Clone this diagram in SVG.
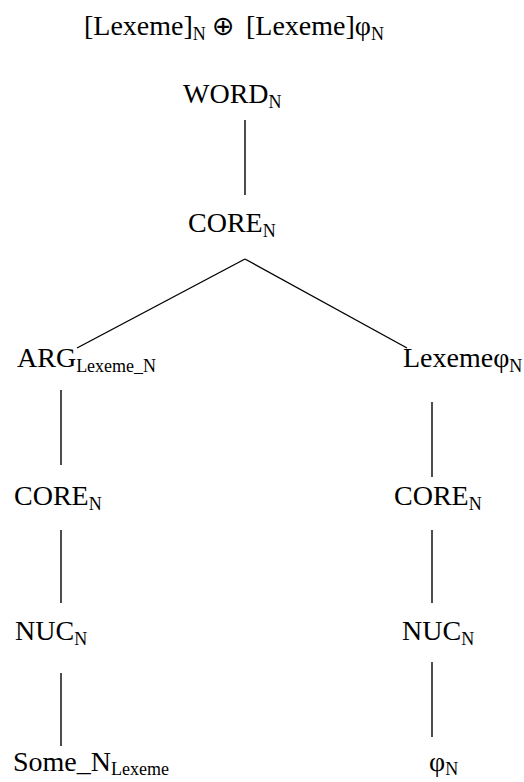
<svg xmlns="http://www.w3.org/2000/svg" width="524" height="782" viewBox="0 0 524 782">
<style>
text{font-family:"Liberation Serif","Times New Roman",serif;font-size:28px;fill:#000}
.s{font-size:18px}
.m{font-family:"DejaVu Sans",sans-serif;font-size:27px}
line{stroke:#000;stroke-width:1.4}
</style>
<rect width="524" height="782" fill="#fff"/>
<g id="title">
<text x="84" y="35">[Lexeme]<tspan class="s" dy="5">N</tspan></text>
<text class="m" x="212" y="35">⊕</text>
<text x="246" y="35">[Lexeme]φ<tspan class="s" dy="5">N</tspan></text>
</g>
<g id="word"><text x="183" y="103">WORD<tspan class="s" dy="5">N</tspan></text></g>
<g id="core"><text x="188" y="232">CORE<tspan class="s" dy="5">N</tspan></text></g>
<g id="arg"><text x="17" y="367">ARG<tspan class="s" dy="5">Lexeme_N</tspan></text></g>
<g id="lexphi"><text x="403" y="367">Lexemeφ<tspan class="s" dy="5">N</tspan></text></g>
<g id="coreL"><text x="14" y="505">CORE<tspan class="s" dy="5">N</tspan></text></g>
<g id="coreR"><text x="394" y="505">CORE<tspan class="s" dy="5">N</tspan></text></g>
<g id="nucL"><text x="15" y="640">NUC<tspan class="s" dy="5">N</tspan></text></g>
<g id="nucR"><text x="402" y="640">NUC<tspan class="s" dy="5">N</tspan></text></g>
<g id="someN"><text x="13" y="771">Some_N<tspan class="s" dy="4">Lexeme</tspan></text></g>
<g id="phiN"><text x="429" y="771">φ<tspan class="s" dy="4">N</tspan></text></g>
<g id="connectors">
<line x1="245" y1="120" x2="245" y2="195"/>
<line x1="245" y1="259" x2="77" y2="348"/>
<line x1="245" y1="259" x2="407" y2="348"/>
<line x1="61" y1="390" x2="61" y2="465"/>
<line x1="432" y1="402" x2="432" y2="477"/>
<line x1="61" y1="530" x2="61" y2="603"/>
<line x1="432" y1="530" x2="432" y2="603"/>
<line x1="61" y1="673" x2="61" y2="746"/>
<line x1="432" y1="662" x2="432" y2="737"/>
</g>
</svg>
